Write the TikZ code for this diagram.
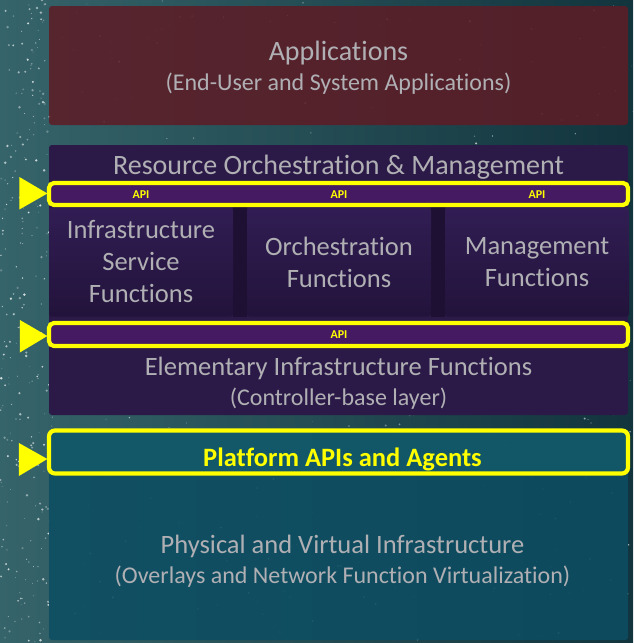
\documentclass[tikz,border=0pt]{standalone}
\usepackage{fontspec}
\setmainfont{Carlito}[Ligatures={NoCommon,NoRequired,NoContextual},Contextuals=NoAlternate]
\definecolor{skyteal}{HTML}{1C464C}
\definecolor{skylight}{HTML}{3C6C72}
\definecolor{skydark}{HTML}{10303A}
\definecolor{appred}{HTML}{5C1D27}
\definecolor{orchpurple}{HTML}{2B1947}
\definecolor{coltop}{HTML}{311D53}
\definecolor{colbot}{HTML}{22133B}
\definecolor{colgap}{HTML}{1E1033}
\definecolor{apipurple}{HTML}{451A62}
\definecolor{platteal}{HTML}{135A6A}
\definecolor{phyteal}{HTML}{0D4D62}
\definecolor{labelgray}{HTML}{B0B0B4}
\definecolor{apiyellow}{HTML}{FFFF00}
\begin{document}
\begin{tikzpicture}[x=1pt,y=-1pt,
  layer/.style={rectangle,rounded corners=3pt,inner sep=0pt,draw=none},
  colbox/.style={rectangle,rounded corners=3pt,inner sep=0pt,draw=none,
    top color=coltop,bottom color=colbot,minimum width=184,minimum height=109},
  apibar/.style={rectangle,rounded corners=5pt,inner sep=0pt,draw=apiyellow,
    line width=4.2pt,fill=apipurple},
  apilabel/.style={text=apiyellow,font=\fontsize{12}{12}\selectfont\bfseries,inner sep=0pt},
  title/.style={text=labelgray,font=\fontsize{28}{30}\selectfont,anchor=base,inner sep=0pt},
  subtitle/.style={text=labelgray,font=\fontsize{24}{26}\selectfont,anchor=base,inner sep=0pt},
  coltext/.style={text=labelgray,font=\fontsize{26.5}{32}\selectfont,align=center,inner sep=0pt},
  pointer/.style={fill=apiyellow,draw=none}]
% starry background
\useasboundingbox (0,0) rectangle (633,643);
\fill[skyteal] (0,0) rectangle (633,643);
\shade[left color=skylight,right color=skydark,opacity=0.8] (0,0) rectangle (633,643);
\pgfmathsetseed{4242}
\foreach \i in {1,...,420}{
  \pgfmathsetmacro\sx{rnd*633}
  \pgfmathsetmacro\sy{rnd*643}
  \pgfmathsetmacro\sr{0.3+rnd*0.9}
  \pgfmathsetmacro\so{0.15+rnd*0.6}
  \fill[white,opacity=\so] (\sx,\sy) circle[radius=\sr];
}
\foreach \i in {1,...,220}{
  \pgfmathsetmacro\sx{rnd*50}
  \pgfmathsetmacro\sy{rnd*643}
  \pgfmathsetmacro\sr{0.4+rnd*1.0}
  \pgfmathsetmacro\so{0.2+rnd*0.6}
  \fill[white,opacity=\so] (\sx,\sy) circle[radius=\sr];
}
% layer boxes
\node[layer,fill=appred,fill opacity=0.88,minimum width=579,minimum height=119] (apps) at (338.5,65.5) {};
\node[layer,fill=orchpurple,minimum width=579,minimum height=270] (orch) at (338.5,280) {};
\node[layer,fill=phyteal,fill opacity=0.88,minimum width=579,minimum height=210] (phys) at (338.5,535) {};
% function columns
\fill[colgap] (233,207) rectangle (247,317);
\fill[colgap] (431,207) rectangle (445,317);
\node[colbox] (isf) at (141,262) {};
\node[colbox] (orf) at (339,262) {};
\node[colbox] (mgf) at (537,262) {};
% API bars
\node[apibar,minimum width=579,minimum height=22] (api1) at (338.5,194) {};
\node[apibar,minimum width=579,minimum height=23] (api2) at (338.5,334.5) {};
\node[apibar,fill=platteal,fill opacity=0.85,rounded corners=6pt,minimum width=579,minimum height=43] (plat) at (338.5,452) {};
% pointers into the API bars
\fill[pointer] ([xshift=-27.5pt,yshift=17pt]api1.west) -- ([xshift=0.5pt,yshift=0.5pt]api1.west) -- ([xshift=-27.5pt,yshift=-15.5pt]api1.west) -- cycle;
\fill[pointer] ([xshift=-27pt,yshift=14.5pt]api2.west) -- ([xshift=0.5pt,yshift=-1.5pt]api2.west) -- ([xshift=-27pt,yshift=-18pt]api2.west) -- cycle;
\fill[pointer] ([xshift=-28pt,yshift=9pt]plat.west) -- ([xshift=0.5pt,yshift=-7pt]plat.west) -- ([xshift=-28pt,yshift=-24pt]plat.west) -- cycle;
% labels
\node[title] (appsT) at (338.5,60.7) {Applications};
\node[subtitle] (appsS) at (338.5,90.7) {(End-User and System Applications)};
\node[title] (orchT) at (338.5,174.3) {Resource Orchestration \& Management};
\node[apilabel] (apiA) at (141,194.5) {API};
\node[apilabel] (apiB) at (339,194.5) {API};
\node[apilabel] (apiC) at (537,194.5) {API};
\node[coltext] (isfT) at (141,262) {Infrastructure\\Service\\Functions};
\node[coltext] (orfT) at (339,262) {Orchestration\\Functions};
\node[coltext] (mgfT) at (537,262) {Management\\Functions};
\node[apilabel] (apiD) at (339,334.5) {API};
\node[title,font=\fontsize{26.5}{30}\selectfont] (eifT) at (338.5,375) {Elementary Infrastructure Functions};
\node[subtitle] (eifS) at (338.5,405.5) {(Controller-base layer)};
\node[title,text=apiyellow,font=\fontsize{26.5}{30}\selectfont\bfseries] (platT) at (342.5,466.5) {Platform APIs and Agents};
\node[title,font=\fontsize{26.5}{30}\selectfont] (physT) at (342.5,553) {Physical and Virtual Infrastructure};
\node[subtitle] (physS) at (342.5,583) {(Overlays and Network Function Virtualization)};
\end{tikzpicture}
\end{document}
